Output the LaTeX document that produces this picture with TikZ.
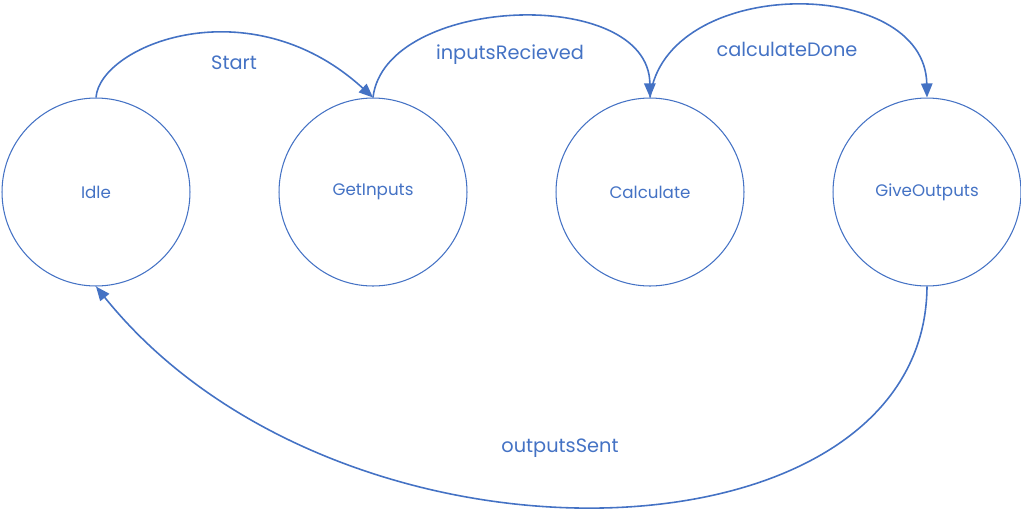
\documentclass[tikz,border=0pt]{standalone}
\usepackage{fontspec}
\setmainfont{Poppins}
\usetikzlibrary{positioning,arrows.meta}
\definecolor{stateblue}{HTML}{4472C4}
\begin{document}
\begin{tikzpicture}[x=0.02cm, y=-0.02cm,
        node distance=1.76cm,
        every node/.style={text=stateblue},
        state/.style={circle, draw=stateblue, line width=0.6pt,
          minimum size=3.76cm, inner sep=0pt, font=\fontsize{9.5pt}{11pt}\selectfont},
        trans/.style={draw=stateblue, line width=0.9pt,
          -{Triangle[length=8pt,width=6.5pt]}},
        tlabel/.style={font=\fontsize{11pt}{13pt}\selectfont}]
      \useasboundingbox (0,0) rectangle (1021,512);
      \node[state] (Idle) at (96,192) {Idle};            % waiting
      \node[state, right=of Idle] (Get) {GetInputs};
      \node[state, right=of Get] (Calc) {Calculate};
      \node[state, right=of Calc] (Give) {GiveOutputs};
      % transitions
      \draw[trans] (Idle.north) .. controls (100,45) and (250,-15) .. (Get.north);
      \draw[trans] (Get.north) .. controls (385,-5) and (649,-15) .. (Calc.north);
      \draw[trans] (Calc.north) .. controls (665,-25) and (925,-25) .. (Give.north);
      \draw[trans] (Give.south) .. controls (925,570) and (340,590) .. (Idle.south);
      % labels
      \node[tlabel] (lStart) at (234,63) {Start};
      \node[tlabel] (lIn) at (510,55) {inputsRecieved};
      \node[tlabel] (lCalc) at (787,49) {calculateDone};
      \node[tlabel] (lOut) at (560,448) {outputsSent};
\end{tikzpicture}
\end{document}
